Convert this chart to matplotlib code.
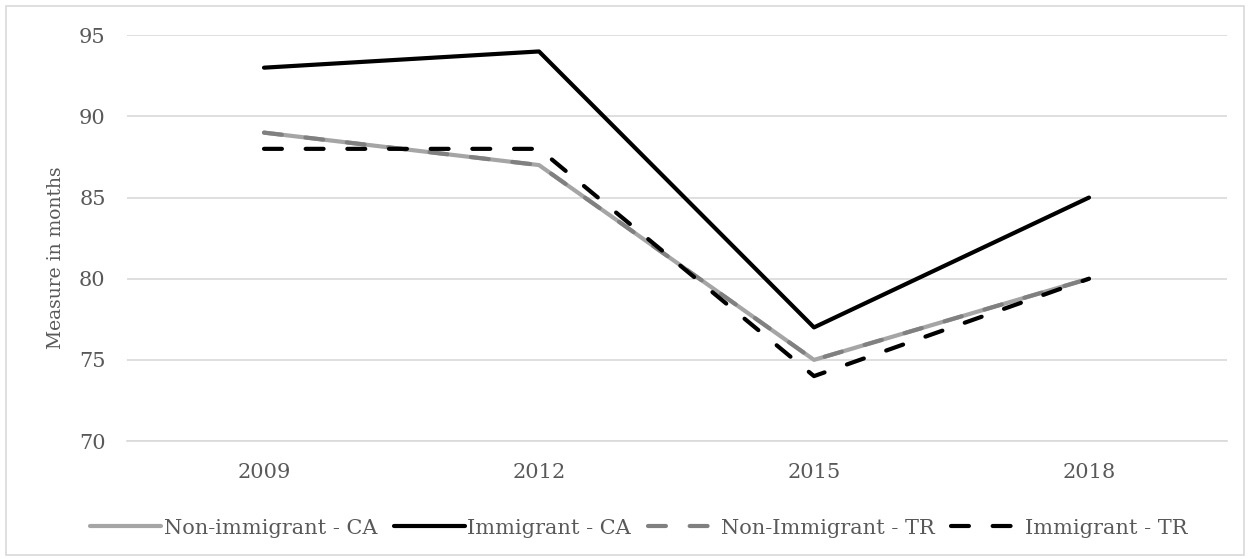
import matplotlib.pyplot as plt
from matplotlib.patches import Rectangle

# chart data
years = ['2009', '2012', '2015', '2018']
non_immigrant_ca = [89, 87, 75, 80]
immigrant_ca = [93, 94, 77, 85]
non_immigrant_tr = [89, 87, 75, 80]
immigrant_tr = [88, 88, 74, 80]

plt.rcParams['font.family'] = ['DejaVu Serif']
text_color = '#595959'
grid_color = '#D9D9D9'

fig = plt.figure(figsize=(12.5, 5.59), dpi=100)
ax = fig.add_axes([0.1012, 0.211, 0.88, 0.726])

x = range(len(years))
lw = 3.0
ax.plot(x, non_immigrant_ca, color='#A5A5A5', lw=lw, solid_capstyle='round',
        solid_joinstyle='round', label='Non-immigrant - CA', zorder=3)
ax.plot(x, immigrant_ca, color='black', lw=lw, solid_capstyle='round',
        solid_joinstyle='round', label='Immigrant - CA', zorder=3)
ax.plot(x, non_immigrant_tr, color='#808080', lw=lw, dashes=(4.3, 5.7),
        dash_capstyle='round', dash_joinstyle='round', label='Non-Immigrant - TR', zorder=4)
ax.plot(x, immigrant_tr, color='black', lw=lw, dashes=(4.3, 5.7),
        dash_capstyle='round', dash_joinstyle='round', label='Immigrant - TR', zorder=4)

ax.set_xlim(-0.5, len(years) - 0.5)
ax.set_ylim(70, 95)
ax.set_yticks([70, 75, 80, 85, 90, 95])
ax.set_xticks(list(x))
ax.set_xticklabels(years)

ax.grid(axis='y', color=grid_color, lw=1.2)
ax.set_axisbelow(True)
for s in ['top', 'right', 'left']:
    ax.spines[s].set_visible(False)
ax.spines['bottom'].set_color(grid_color)
ax.spines['bottom'].set_linewidth(1.2)
ax.tick_params(axis='both', length=0, labelsize=15, colors=text_color)
ax.tick_params(axis='y', pad=15)
ax.tick_params(axis='x', pad=16)

ax.set_ylabel('Measure in months', fontsize=13.5, color=text_color)
ax.yaxis.set_label_coords(-0.0555, 0.453)

fig.legend(loc='center', bbox_to_anchor=(0.511, 0.055), ncol=4, frameon=False,
           fontsize=15, labelcolor=text_color, handlelength=3.4,
           handletextpad=0.12, columnspacing=0.8)

# outer chart border
fig.patches.append(Rectangle((0.005, 0.008), 0.99, 0.982, transform=fig.transFigure,
                             fill=False, edgecolor=grid_color, lw=1.2))

plt.savefig('out.png', dpi=100)
